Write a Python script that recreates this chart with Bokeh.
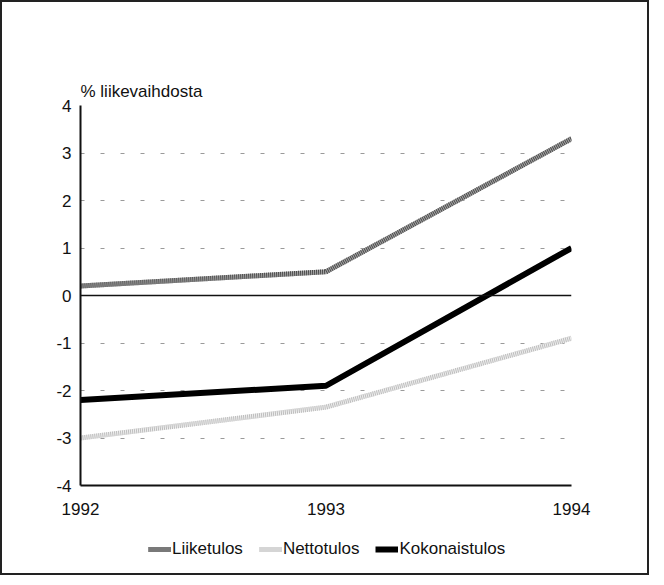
from bokeh.plotting import figure
from bokeh.layouts import column
from bokeh.models import Range1d, FixedTicker, Span, Legend, LegendItem
from bokeh.embed import file_html
from bokeh.resources import INLINE

years = [1992, 1993, 1994]
liiketulos = [0.2, 0.5, 3.3]
nettotulos = [-3.0, -2.35, -0.9]
kokonaistulos = [-2.2, -1.9, 1.0]
y_ticks = [-4, -3, -2, -1, 0, 1, 2, 3, 4]
y_label = "% liikevaihdosta"
series_names = ["Liiketulos", "Nettotulos", "Kokonaistulos"]

FONT = "Liberation Sans"

p = figure(width=645, height=520, output_backend="svg", toolbar_location=None,
           x_range=Range1d(1992, 1994), y_range=Range1d(-4, 4),
           min_border_left=78, min_border_right=76, min_border_top=103, min_border_bottom=37,
           title=y_label)

p.title.text_font = FONT
p.title.text_font_size = "17px"
p.title.text_font_style = "normal"
p.title.text_color = "#111"
p.title.align = "left"
p.title.offset = 0
p.title.standoff = 10

p.outline_line_color = None
p.xgrid.grid_line_color = None
p.ygrid.ticker = FixedTicker(ticks=y_ticks)
p.ygrid.grid_line_color = "#9a9a9a"
p.ygrid.grid_line_dash = "4 16"
p.ygrid.grid_line_width = 1

p.yaxis.ticker = FixedTicker(ticks=y_ticks)
p.yaxis.major_label_overrides = {t: str(t) for t in y_ticks}
p.xaxis.ticker = FixedTicker(ticks=years)
for ax in (p.xaxis, p.yaxis):
    ax.axis_line_color = "#111"
    ax.axis_line_width = 2
    ax.major_tick_line_color = None
    ax.major_tick_out = 0
    ax.major_tick_in = 0
    ax.minor_tick_line_color = None
    ax.major_label_text_font = FONT
    ax.major_label_text_font_size = "17px"
    ax.major_label_text_color = "#111"
p.yaxis.major_label_standoff = 9
p.xaxis.major_label_standoff = 17

p.add_layout(Span(location=0, dimension="width", line_color="#111", line_width=1.5))

STYLES = [
    [dict(line_color="#a8a8a8", line_width=5), dict(line_color="#4a4a4a", line_width=5, line_dash="1 1")],
    [dict(line_color="#eeeeee", line_width=5), dict(line_color="#bdbdbd", line_width=5, line_dash="1 1")],
    [dict(line_color="#000000", line_width=6)],
]
series = [liiketulos, nettotulos, kokonaistulos]
for vals, st in zip(series, STYLES):
    for s in st:
        p.line(years, vals, **s)

# legend strip below the chart (its frame is aligned with the chart's frame)
q = figure(width=645, height=51, output_backend="svg", toolbar_location=None,
           x_axis_type=None, y_axis_type=None, x_range=Range1d(0, 1), y_range=Range1d(0, 1),
           min_border=0)
q.outline_line_color = None
q.grid.grid_line_color = None
items = []
for name, vals, st in zip(series_names, series, STYLES):
    rs = [q.line(years, vals, **s) for s in st]
    items.append(LegendItem(label=name, renderers=rs))

legend = Legend(items=items, orientation="horizontal", location=(68, 14))
legend.label_text_font = FONT
legend.label_text_font_size = "17px"
legend.label_text_color = "#111"
legend.glyph_width = 23
legend.label_standoff = 1
legend.spacing = 16
legend.border_line_color = None
legend.background_fill_alpha = 0
legend.margin = 0
legend.padding = 0
q.add_layout(legend, "center")

layout = column(p, q, spacing=0, styles={"border": "2px solid #222"})

open("out.html", "w").write(file_html(layout, INLINE))
